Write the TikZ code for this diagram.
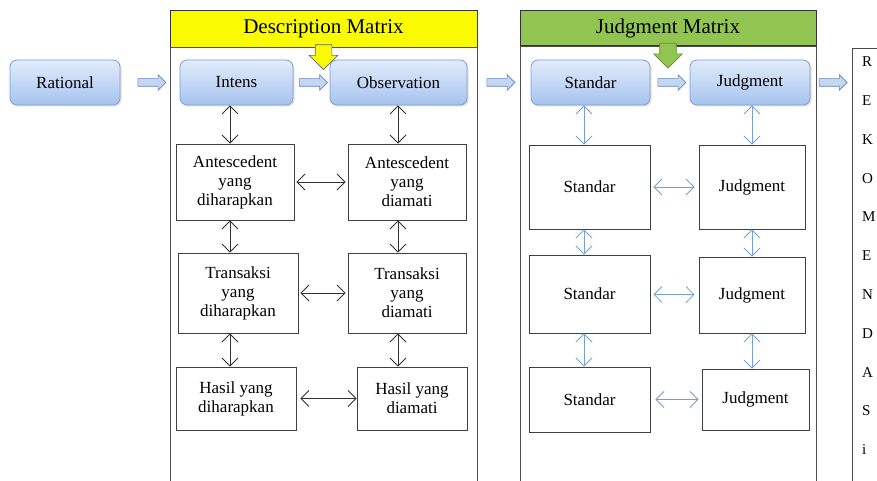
\documentclass[tikz,border=0pt]{standalone}
\usepackage{fontspec}
\setmainfont{Liberation Serif}
\usetikzlibrary{shapes.arrows,arrows.meta,shadows}

\definecolor{rboxtop}{RGB}{226,236,252}
\definecolor{rboxbot}{RGB}{166,195,238}
\definecolor{rboxline}{RGB}{125,157,210}
\definecolor{fatfill}{RGB}{196,214,240}
\definecolor{fatline}{RGB}{95,135,195}
\definecolor{hdryellow}{RGB}{250,250,0}
\definecolor{hdrgreen}{RGB}{146,196,82}
\definecolor{judgarrow}{RGB}{120,160,205}

\begin{document}
\begin{tikzpicture}[x=1pt, y=-1pt, font=\fontsize{17}{19}\selectfont]
    \tikzstyle{rbox} = [rectangle, rounded corners=7pt, draw=rboxline, line width=0.8pt,
        top color=rboxtop, bottom color=rboxbot, minimum height=45pt,
        drop shadow={opacity=0.25, shadow xshift=1.5pt, shadow yshift=-1.5pt}]
    \tikzstyle{wbox} = [rectangle, draw=black!75, line width=0.9pt, fill=white, align=center,
        inner sep=2pt, drop shadow={opacity=0.15, shadow xshift=1pt, shadow yshift=-1pt}]
    \tikzstyle{hdr} = [rectangle, draw=black!80, line width=0.9pt, font=\fontsize{21}{24}\selectfont]
    \tikzstyle{frame} = [rectangle, draw=black!70, line width=0.9pt, minimum height=460pt]
    \tikzstyle{fat} = [single arrow, draw=fatline, fill=fatfill, line width=0.6pt, inner sep=3.5pt,
        text height=0pt, text depth=0pt, minimum height=28pt, single arrow head extend=4pt]
    \tikzstyle{downarr} = [single arrow, shape border rotate=270, line width=0.6pt, inner sep=8pt,
        text height=0pt, text depth=0pt, minimum height=20pt, single arrow head extend=6pt, anchor=tail]
    \tikzstyle{dbl} = [draw=black!80, line width=0.8pt, >={Straight Barb[length=8pt,width=16pt]}, <->]
    \tikzstyle{jdbl} = [dbl, draw=judgarrow]
    \tikzstyle{letter} = [anchor=west, inner sep=0pt, font=\fontsize{15}{15}\selectfont]

    \fill[white] (0,0) rectangle (877,481);
    \clip (0,0) rectangle (877,481);

    % matrix frames
    \node[hdr, fill=hdryellow, minimum width=307pt, minimum height=37pt] (desc) at (323.5,28.5) {Description Matrix};
    \node[frame, minimum width=307pt, anchor=north] (descbody) at (desc.south) {};
    \node[hdr, fill=hdrgreen, minimum width=296pt, minimum height=35pt] (judg) at (668,28) {Judgment Matrix};
    \node[frame, minimum width=296pt, anchor=north] (judgbody) at (judg.south) {};
    \node[downarr, fill=hdryellow, draw=black!60] (descarr) at ([yshift=3pt]desc.south) {};
    \node[downarr, fill=hdrgreen, draw=hdrgreen!70!black] (judgarr) at ([yshift=3pt]judg.south) {};
    \node[frame, minimum width=60pt, anchor=north west] (rek) at (852,48) {};

    % top row
    \node[rbox, minimum width=110pt] (rational) at (65,82.5) {Rational};
    \node[rbox, minimum width=113pt] (intens) at (236.5,82.5) {Intens};
    \node[rbox, minimum width=137pt] (obs) at (398.5,82.5) {Observation};
    \node[rbox, minimum width=119pt] (standar) at (590.5,82.5) {Standar};
    \node[rbox, minimum width=120pt] (judgment) at (750,82.5) {Judgment};

    \path (rational) -- node[fat] {} (intens);
    \path (intens) -- node[fat] {} (obs);
    \path (obs) -- node[fat] {} (standar);
    \path (standar) -- node[fat] {} (judgment);
    \path (judgment.east) -- node[fat] {} (judgment.east -| rek.west);

    % description matrix
    \node[wbox, minimum width=118pt, minimum height=76pt] (antA) at (235,182) {Antescedent\\yang\\diharapkan};
    \node[wbox, minimum width=118pt, minimum height=76pt] (antB) at (407,182) {Antescedent\\yang\\diamati};
    \node[wbox, minimum width=120pt, minimum height=80pt] (trA) at (238,293) {Transaksi\\yang\\diharapkan};
    \node[wbox, minimum width=118pt, minimum height=80pt] (trB) at (407,293) {Transaksi\\yang\\diamati};
    \node[wbox, minimum width=120pt, minimum height=63pt] (hasA) at (236,398.5) {Hasil yang\\diharapkan};
    \node[wbox, minimum width=110pt, minimum height=63pt] (hasB) at (412,398.5) {Hasil yang\\diamati};

    \coordinate (lcol) at (230,0);
    \coordinate (rcol) at (398,0);
    \draw[dbl] (intens.south -| lcol) -- (antA.north -| lcol);
    \draw[dbl] (antA.south -| lcol) -- (trA.north -| lcol);
    \draw[dbl] (trA.south -| lcol) -- (hasA.north -| lcol);
    \draw[dbl] (obs.south -| rcol) -- (antB.north -| rcol);
    \draw[dbl] (antB.south -| rcol) -- (trB.north -| rcol);
    \draw[dbl] (trB.south -| rcol) -- (hasB.north -| rcol);
    \draw[dbl, shorten <=2pt, shorten >=2pt] (antA) -- (antB);
    \draw[dbl, shorten <=2pt, shorten >=2pt] (trA) -- (trB);
    \draw[dbl, shorten <=4pt] (hasA) -- (hasB);

    % judgment matrix
    \node[wbox, minimum width=121pt, minimum height=84pt] (st1) at (589.5,187) {Standar};
    \node[wbox, minimum width=106pt, minimum height=84pt] (jd1) at (752,187) {Judgment};
    \node[wbox, minimum width=121pt, minimum height=78pt] (st2) at (589.5,294) {Standar};
    \node[wbox, minimum width=106pt, minimum height=76pt] (jd2) at (752,295) {Judgment};
    \node[wbox, minimum width=121pt, minimum height=65pt] (st3) at (589.5,399.5) {Standar};
    \node[wbox, minimum width=107pt, minimum height=61pt] (jd3) at (755.5,399.5) {Judgment};

    \coordinate (scol) at (584,0);
    \coordinate (jcol) at (752,0);
    \draw[jdbl] (standar.south -| scol) -- (st1.north -| scol);
    \draw[jdbl] (st1.south -| scol) -- (st2.north -| scol);
    \draw[jdbl] (st2.south -| scol) -- (st3.north -| scol);
    \draw[jdbl] (judgment.south -| jcol) -- (jd1.north -| jcol);
    \draw[jdbl] (jd1.south -| jcol) -- (jd2.north -| jcol);
    \draw[jdbl] (jd2.south -| jcol) -- (jd3.north -| jcol);
    \draw[jdbl, shorten <=3pt, shorten >=4pt] (st1) -- (jd1);
    \draw[jdbl, shorten <=3pt, shorten >=4pt] (st2) -- (jd2);
    \draw[jdbl, shorten <=5pt, shorten >=3pt] (st3) -- (jd3);

    % rekomendasi
    \foreach \ch [count=\k] in {R,E,K,O,M,E,N,D,A,S,i}
        \node[letter] (rek\k) at (862, 23+38.8*\k) {\ch};
\end{tikzpicture}
\end{document}
